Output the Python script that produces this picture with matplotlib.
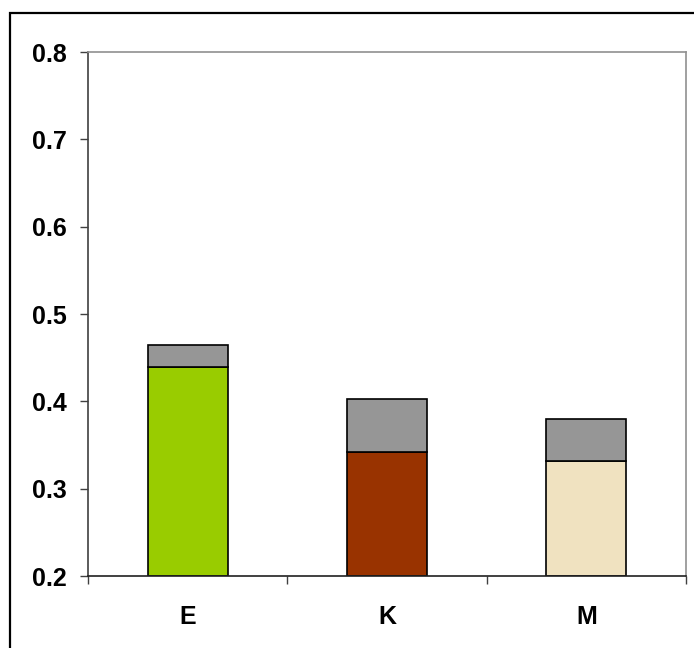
import matplotlib
matplotlib.use("Agg")
from matplotlib import pyplot as plt
from matplotlib.patches import Rectangle

# values
categories = ["E", "K", "M"]
base_values = [0.439, 0.342, 0.332]
top_values = [0.465, 0.403, 0.380]
base_colors = ["#99CC00", "#993300", "#F0E2C0"]
top_color = "#969696"

plt.rcParams['font.family'] = ['Liberation Sans', 'DejaVu Sans']
plt.rcParams['font.weight'] = 'bold'

fig = plt.figure(figsize=(6.94, 6.48), dpi=100)
ax = fig.add_axes([88/694, 72/648, 598/694, 524/648])

x = list(range(1, len(categories) + 1))
extra = [t - b for t, b in zip(top_values, base_values)]
ax.bar(x, [b - 0.2 for b in base_values], bottom=0.2, width=0.4,
       color=base_colors, edgecolor="black", linewidth=1.2, zorder=2)
ax.bar(x, extra, bottom=base_values, width=0.4,
       color=top_color, edgecolor="black", linewidth=1.2, zorder=2)

ax.set_xlim(0.5, len(categories) + 0.5)
ax.set_ylim(0.2, 0.8)
ax.set_yticks([0.2, 0.3, 0.4, 0.5, 0.6, 0.7, 0.8])
ax.set_yticklabels(["0.2", "0.3", "0.4", "0.5", "0.6", "0.7", "0.8"])
ax.tick_params(axis="y", direction="out", length=6, width=1, pad=9,
               labelsize=18, color="#404040")

# category boundaries get tick marks, centres get labels
ax.set_xticks([i + 0.5 for i in range(len(categories) + 1)])
ax.set_xticklabels([])
ax.set_xticks(x, minor=True)
ax.set_xticklabels(categories, minor=True)
ax.tick_params(axis="x", which="major", direction="out", length=6, width=1,
               color="#404040")
ax.tick_params(axis="x", which="minor", length=0, pad=21, labelsize=18)

for lab in ax.get_yticklabels() + ax.get_xticklabels(minor=True):
    lab.set_fontweight("bold")

ax.spines["left"].set_color("#404040")
ax.spines["bottom"].set_color("#202020")
ax.spines["top"].set_color("#909090")
ax.spines["right"].set_color("#909090")
for s in ax.spines.values():
    s.set_linewidth(1.2)

# outer frame of the chart area (runs off the right and bottom)
frame = Rectangle((10/694, -0.1), 1.0, (648-13)/648 + 0.1,
                  transform=fig.transFigure, fill=False,
                  edgecolor="black", linewidth=1.6, clip_on=False)
fig.add_artist(frame)

fig.savefig("out.png", dpi=100)
